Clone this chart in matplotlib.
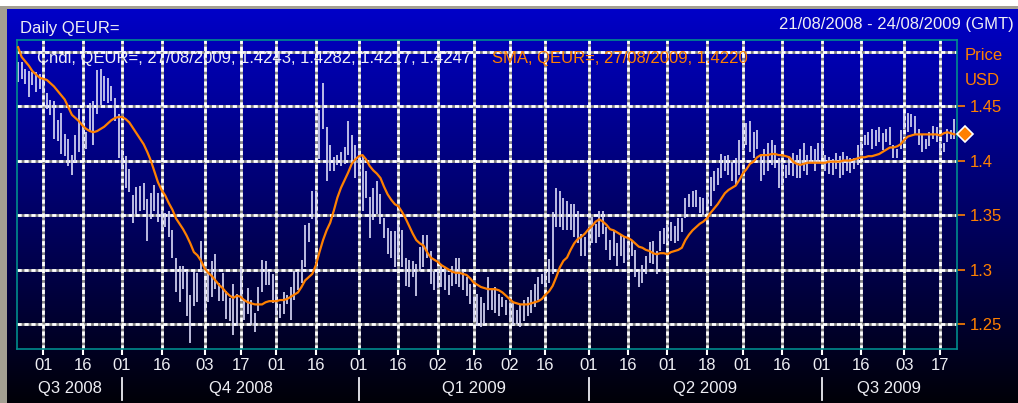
import numpy as np
import pandas as pd
import matplotlib
matplotlib.use("Agg")
import matplotlib.pyplot as plt
from matplotlib import transforms
from matplotlib.patches import Rectangle

plt.rcParams["font.family"] = ["Liberation Sans", "DejaVu Sans"]
plt.rcParams["lines.scale_dashes"] = False

# --- data ----------------------------------------------------------------
FIRST_DAY = "2008-08-21"

high = [
    1.490, 1.490, 1.484, 1.482, 1.481, 1.481, 1.479, 1.475, 1.462, 1.456,
    1.455, 1.437, 1.444, 1.424, 1.420, 1.405, 1.423, 1.447, 1.438, 1.426,
    1.453, 1.455, 1.483, 1.484, 1.478, 1.476, 1.468, 1.457, 1.443, 1.410,
    1.404, 1.392, 1.368, 1.376, 1.377, 1.379, 1.365, 1.370, 1.378, 1.370,
    1.354, 1.352, 1.354, 1.336, 1.311, 1.303, 1.303, 1.299, 1.277, 1.298,
    1.297, 1.326, 1.290, 1.298, 1.308, 1.314, 1.288, 1.297, 1.280, 1.274,
    1.287, 1.278, 1.302, 1.272, 1.283, 1.272, 1.260, 1.284, 1.309, 1.308,
    1.299, 1.296, 1.278, 1.268, 1.279, 1.277, 1.284, 1.299, 1.299, 1.309,
    1.341, 1.343, 1.372, 1.372, 1.446, 1.471, 1.431, 1.414, 1.403, 1.405,
    1.408, 1.412, 1.436, 1.423, 1.414, 1.409, 1.405, 1.390, 1.367, 1.375,
    1.381, 1.369, 1.347, 1.338, 1.335, 1.335, 1.342, 1.336, 1.311, 1.309,
    1.308, 1.305, 1.321, 1.332, 1.332, 1.317, 1.299, 1.300, 1.305, 1.302,
    1.295, 1.303, 1.311, 1.311, 1.299, 1.293, 1.287, 1.275, 1.278, 1.275,
    1.269, 1.293, 1.282, 1.284, 1.278, 1.275, 1.272, 1.269, 1.269, 1.263,
    1.268, 1.272, 1.275, 1.281, 1.287, 1.293, 1.296, 1.299, 1.310, 1.353,
    1.375, 1.372, 1.366, 1.363, 1.360, 1.360, 1.354, 1.333, 1.330, 1.336,
    1.348, 1.342, 1.354, 1.354, 1.339, 1.327, 1.336, 1.324, 1.333, 1.330,
    1.324, 1.327, 1.318, 1.299, 1.304, 1.312, 1.325, 1.326, 1.317, 1.335,
    1.338, 1.341, 1.344, 1.340, 1.347, 1.347, 1.366, 1.369, 1.372, 1.373,
    1.367, 1.366, 1.369, 1.385, 1.390, 1.393, 1.406, 1.404, 1.405, 1.399,
    1.402, 1.419, 1.434, 1.434, 1.436, 1.426, 1.428, 1.405, 1.411, 1.416,
    1.419, 1.414, 1.402, 1.399, 1.396, 1.402, 1.407, 1.405, 1.411, 1.416,
    1.405, 1.413, 1.411, 1.416, 1.416, 1.405, 1.403, 1.401, 1.407, 1.404,
    1.408, 1.404, 1.402, 1.402, 1.414, 1.417, 1.423, 1.426, 1.429, 1.428,
    1.431, 1.425, 1.429, 1.431, 1.414, 1.411, 1.428, 1.444, 1.444, 1.443,
    1.441, 1.429, 1.423, 1.420, 1.426, 1.432, 1.431, 1.417, 1.416, 1.429,
    1.428, 1.438,
]

low = [
    1.472, 1.475, 1.470, 1.458, 1.469, 1.463, 1.466, 1.462, 1.447, 1.442,
    1.420, 1.418, 1.406, 1.404, 1.395, 1.387, 1.399, 1.408, 1.406, 1.411,
    1.426, 1.414, 1.443, 1.451, 1.455, 1.453, 1.455, 1.436, 1.402, 1.392,
    1.375, 1.371, 1.343, 1.351, 1.354, 1.355, 1.326, 1.346, 1.354, 1.344,
    1.336, 1.339, 1.330, 1.311, 1.279, 1.270, 1.282, 1.257, 1.233, 1.267,
    1.270, 1.299, 1.261, 1.270, 1.275, 1.282, 1.271, 1.271, 1.255, 1.253,
    1.240, 1.248, 1.272, 1.254, 1.259, 1.249, 1.243, 1.262, 1.279, 1.286,
    1.286, 1.269, 1.258, 1.256, 1.259, 1.268, 1.254, 1.272, 1.281, 1.288,
    1.302, 1.325, 1.346, 1.342, 1.401, 1.429, 1.381, 1.390, 1.390, 1.396,
    1.395, 1.397, 1.405, 1.399, 1.384, 1.386, 1.354, 1.366, 1.329, 1.345,
    1.351, 1.342, 1.329, 1.314, 1.311, 1.302, 1.311, 1.302, 1.285, 1.284,
    1.293, 1.276, 1.299, 1.302, 1.311, 1.287, 1.281, 1.283, 1.284, 1.281,
    1.277, 1.285, 1.287, 1.284, 1.281, 1.276, 1.268, 1.253, 1.248, 1.247,
    1.250, 1.263, 1.263, 1.260, 1.257, 1.266, 1.258, 1.253, 1.249, 1.250,
    1.247, 1.253, 1.257, 1.260, 1.266, 1.272, 1.287, 1.284, 1.288, 1.296,
    1.339, 1.339, 1.336, 1.336, 1.336, 1.330, 1.324, 1.312, 1.312, 1.318,
    1.324, 1.324, 1.330, 1.333, 1.318, 1.309, 1.312, 1.303, 1.312, 1.306,
    1.309, 1.312, 1.293, 1.284, 1.288, 1.296, 1.306, 1.305, 1.296, 1.317,
    1.323, 1.324, 1.326, 1.324, 1.326, 1.334, 1.347, 1.357, 1.357, 1.357,
    1.352, 1.350, 1.357, 1.358, 1.372, 1.378, 1.384, 1.390, 1.387, 1.381,
    1.378, 1.387, 1.410, 1.414, 1.408, 1.402, 1.411, 1.381, 1.387, 1.390,
    1.396, 1.393, 1.375, 1.378, 1.384, 1.387, 1.386, 1.384, 1.384, 1.390,
    1.387, 1.398, 1.390, 1.398, 1.402, 1.390, 1.388, 1.387, 1.392, 1.384,
    1.387, 1.390, 1.389, 1.392, 1.396, 1.405, 1.414, 1.414, 1.411, 1.413,
    1.417, 1.410, 1.417, 1.414, 1.402, 1.402, 1.411, 1.429, 1.426, 1.431,
    1.423, 1.414, 1.408, 1.411, 1.413, 1.420, 1.417, 1.407, 1.408, 1.417,
    1.420, 1.420,
]

sma = [
    1.504, 1.495, 1.491, 1.487, 1.482, 1.479, 1.476, 1.475, 1.474, 1.471,
    1.468, 1.464, 1.460, 1.456, 1.449, 1.442, 1.439, 1.436, 1.432, 1.429,
    1.427, 1.426, 1.427, 1.429, 1.431, 1.434, 1.437, 1.439, 1.440, 1.440,
    1.438, 1.435, 1.430, 1.425, 1.420, 1.415, 1.408, 1.400, 1.390, 1.380,
    1.373, 1.368, 1.361, 1.355, 1.347, 1.342, 1.337, 1.331, 1.324, 1.316,
    1.313, 1.308, 1.301, 1.297, 1.294, 1.290, 1.286, 1.283, 1.279, 1.276,
    1.274, 1.276, 1.275, 1.272, 1.270, 1.269, 1.268, 1.268, 1.268, 1.270,
    1.271, 1.271, 1.271, 1.272, 1.272, 1.273, 1.275, 1.277, 1.279, 1.284,
    1.290, 1.293, 1.296, 1.304, 1.316, 1.327, 1.336, 1.343, 1.354, 1.366,
    1.375, 1.382, 1.389, 1.397, 1.401, 1.404, 1.405, 1.401, 1.395, 1.391,
    1.388, 1.384, 1.376, 1.369, 1.364, 1.360, 1.358, 1.353, 1.347, 1.340,
    1.333, 1.327, 1.324, 1.322, 1.316, 1.311, 1.309, 1.307, 1.304, 1.302,
    1.300, 1.298, 1.297, 1.297, 1.296, 1.295, 1.292, 1.288, 1.286, 1.284,
    1.283, 1.282, 1.282, 1.282, 1.281, 1.279, 1.276, 1.273, 1.270, 1.269,
    1.268, 1.268, 1.268, 1.269, 1.270, 1.271, 1.273, 1.277, 1.280, 1.285,
    1.293, 1.302, 1.308, 1.311, 1.318, 1.324, 1.328, 1.330, 1.333, 1.337,
    1.340, 1.344, 1.346, 1.344, 1.341, 1.337, 1.336, 1.334, 1.332, 1.330,
    1.329, 1.327, 1.324, 1.321, 1.320, 1.318, 1.317, 1.315, 1.314, 1.315,
    1.315, 1.314, 1.316, 1.317, 1.318, 1.320, 1.327, 1.332, 1.336, 1.339,
    1.342, 1.344, 1.347, 1.352, 1.356, 1.360, 1.365, 1.370, 1.373, 1.375,
    1.377, 1.382, 1.388, 1.392, 1.397, 1.399, 1.403, 1.405, 1.405, 1.405,
    1.406, 1.406, 1.405, 1.405, 1.404, 1.403, 1.399, 1.397, 1.396, 1.397,
    1.398, 1.398, 1.398, 1.398, 1.398, 1.398, 1.399, 1.399, 1.399, 1.399,
    1.400, 1.400, 1.400, 1.401, 1.402, 1.403, 1.403, 1.404, 1.404, 1.405,
    1.406, 1.408, 1.410, 1.412, 1.412, 1.413, 1.415, 1.419, 1.422, 1.423,
    1.424, 1.424, 1.424, 1.424, 1.424, 1.424, 1.424, 1.423, 1.425, 1.426,
    1.425, 1.424,
]

last_date = "27/08/2009"
last_ohlc = [1.4243, 1.4282, 1.4217, 1.4247]
last_sma = 1.4220
range_text = "21/08/2008 - 24/08/2009 (GMT)"

tick_dates = ["2008-09-01", "2008-09-16", "2008-10-01", "2008-10-16", "2008-11-03",
              "2008-11-17", "2008-12-01", "2008-12-16", "2009-01-01", "2009-01-16",
              "2009-02-02", "2009-02-16", "2009-03-02", "2009-03-16", "2009-04-01",
              "2009-04-16", "2009-05-01", "2009-05-18", "2009-06-01", "2009-06-16",
              "2009-07-01", "2009-07-16", "2009-08-03", "2009-08-17"]
quarter_starts = ["2008-10-01", "2009-01-01", "2009-04-01", "2009-07-01"]
quarter_labels = ["Q3 2008", "Q4 2008", "Q1 2009", "Q2 2009", "Q3 2009"]
price_ticks = [1.25, 1.30, 1.35, 1.40, 1.45]
price_labels = ["1.25", "1.3", "1.35", "1.4", "1.45"]
grid_levels = [1.25, 1.30, 1.35, 1.40, 1.45, 1.50]

# --- layout -----------------------------------------------------------------
W, H = 1018, 403
ORANGE = "#FF8000"
TEAL = "#008C8C"
TXT = "#EEEEF4"


def fx(px):
    return px / W


def fy(py):
    return 1 - py / H


dates = pd.bdate_range(FIRST_DAY, periods=len(high))
x = np.arange(len(high))
tick_idx = [dates.get_loc(pd.Timestamp(d)) for d in tick_dates]
q_idx = [dates.get_loc(pd.Timestamp(d)) for d in quarter_starts]
xlim = (-0.3, 261.7)

fig = plt.figure(figsize=(W / 100, H / 100), dpi=100)

# background: vertical blue gradient with grey frame on top / left
bg = fig.add_axes([0, 0, 1, 1], zorder=-1)
grad = np.zeros((H, 1, 3))
grad[:, 0, 2] = np.linspace(0.80, 0.03, H)
bg.imshow(grad, aspect="auto", extent=(0, 1, 0, 1), origin="upper")
bg.add_patch(Rectangle((0, fy(6)), 1, 6 / H, color="white", lw=0))
bg.add_patch(Rectangle((0, fy(9.3)), 1, 3.3 / H, color="#A39F92", lw=0))
bg.add_patch(Rectangle((0, 0), 7 / W, fy(6), color="#A39F92", lw=0))
bg.set_xlim(0, 1); bg.set_ylim(0, 1)
bg.axis("off")

ax = fig.add_axes([fx(17), fy(349), 940 / W, 309 / H])
ax.set_facecolor("none")

# dashed white-on-grey grid
for lvl in grid_levels:
    ax.axhline(lvl, color="#8A8A8A", lw=2.0, zorder=1)
    ax.axhline(lvl, color="white", lw=2.0, dashes=(3.0, 2.0), zorder=1.1)
for t in tick_idx:
    ax.axvline(t, color="#8A8A8A", lw=2.0, zorder=1)
    ax.axvline(t, color="white", lw=2.0, dashes=(3.0, 2.0), zorder=1.1)

ax.vlines(x, low, high, colors="#D4D4F2", lw=1.25, zorder=2)
ax.plot(x, sma, color=ORANGE, lw=1.6, zorder=3)

# last-price marker just outside the right frame
mk = ax.get_yaxis_transform() + transforms.ScaledTranslation(8 / 100, 0, fig.dpi_scale_trans)
ax.plot([1.0], [last_ohlc[3]], marker="D", ms=8, mfc=ORANGE, mec="white", mew=1.2,
        transform=mk, clip_on=False, zorder=5)

ax.set_xlim(*xlim)
ax.set_ylim(1.2271, 1.5106)

for s in ax.spines.values():
    s.set_color(TEAL); s.set_linewidth(1.2)

ax.set_xticks(tick_idx)
ax.set_xticklabels([d[-2:] for d in tick_dates])
ax.tick_params(axis="x", colors="white", labelcolor=TXT, length=4.5, width=1.5,
               pad=2, labelsize=12)
ax.yaxis.tick_right()
ax.set_yticks(price_ticks)
ax.set_yticklabels(price_labels)
ax.tick_params(axis="y", colors=ORANGE, labelcolor=ORANGE, length=6, width=1.2,
               pad=3, labelsize=12)

# quarter band under the month labels
blend = transforms.blended_transform_factory(ax.transData, fig.transFigure)
bounds = [xlim[0]] + q_idx + [xlim[1]]
for lab, a, b in zip(quarter_labels, bounds[:-1], bounds[1:]):
    ax.text((a + b) / 2, fy(388), lab, transform=blend, ha="center", va="center",
            color=TXT, fontsize=12)
for q in q_idx:
    ax.plot([q, q], [fy(378), fy(400)], transform=blend, color=TXT, lw=1.3, clip_on=False)

# header texts
fig.text(fx(20), fy(29), "Daily QEUR=", color=TXT, fontsize=12, va="center")
fig.text(fx(1014), fy(25), range_text, color=TXT, fontsize=12, va="center", ha="right")
cndl = "Cndl, QEUR=, " + last_date + ", " + ", ".join(f"{v:.4f}" for v in last_ohlc)
fig.text(fx(37), fy(58), cndl, color=TXT, fontsize=12, va="center")
fig.text(fx(492), fy(58), f"SMA, QEUR=, {last_date}, {last_sma:.4f}", color=ORANGE,
         fontsize=12, va="center")
fig.text(fx(965), fy(55.5), "Price", color=ORANGE, fontsize=12, va="center")
fig.text(fx(965), fy(80.5), "USD", color=ORANGE, fontsize=12, va="center")

fig.savefig("out.png", dpi=100)
